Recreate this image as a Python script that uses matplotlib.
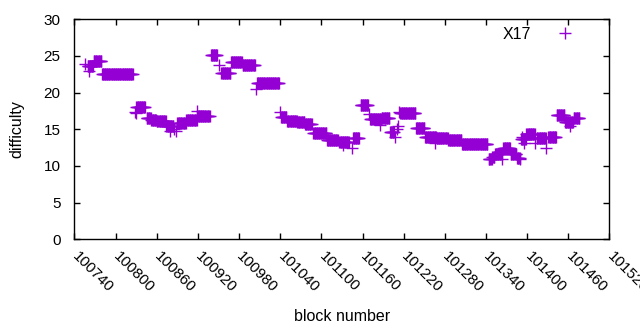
import numpy as np
import matplotlib
matplotlib.use('Agg')
import matplotlib.pyplot as plt
import matplotlib.transforms as mtransforms

plt.rcParams['font.family'] = ['Liberation Sans', 'DejaVu Sans']

# runs of equal difficulty: first block, last block, value
run_start = [100759, 100768, 100780, 100830, 100845, 100852, 100860, 100874,
             100890, 100903, 100919, 100939, 100954, 100968, 100985, 101006,
             101041, 101050, 101065, 101076, 101088, 101108, 101126, 101146,
             101157, 101171, 101188, 101200, 101215, 101238, 101251, 101268,
             101285, 101305, 101344, 101349, 101353, 101365, 101376, 101385,
             101391, 101399, 101414, 101431, 101443, 101455, 101468]
run_end = [100767, 100779, 100825, 100843, 100851, 100859, 100873, 100884,
           100902, 100918, 100937, 100948, 100967, 100984, 101003, 101038,
           101049, 101064, 101075, 101086, 101107, 101124, 101140, 101155,
           101168, 101187, 101199, 101206, 101237, 101250, 101267, 101284,
           101304, 101342, 101348, 101352, 101363, 101375, 101384, 101389,
           101398, 101411, 101427, 101442, 101454, 101467, 101476]
run_value = [23.6, 24.3, 22.6, 18.1, 16.6, 16.3, 16.1, 15.4,
             15.8, 16.3, 16.8, 25.1, 22.7, 24.2, 23.8, 21.3,
             16.7, 16.2, 16.0, 15.7, 14.5, 13.6, 13.3, 13.8,
             18.3, 16.4, 16.6, 14.6, 17.2, 15.2, 14.0, 13.8,
             13.5, 13.0, 10.9, 11.2, 11.6, 12.5, 11.7, 11.1,
             13.7, 14.3, 13.8, 13.9, 17.0, 16.0, 16.5]

# isolated blocks
single_block = [100756, 100761, 100828, 100829, 100879, 100885, 100888, 100919,
                100950, 101005, 101040, 101131, 101144, 101169, 101186, 101207,
                101210, 101212, 101213, 101266, 101363, 101390, 101392, 101396,
                101412, 101427, 101462]
single_value = [23.9, 23.0, 17.4, 17.2, 14.8, 15.0, 14.8, 17.5,
                23.8, 20.5, 17.4, 12.9, 12.5, 17.1, 15.6, 14.0,
                15.0, 15.4, 17.4, 13.1, 11.0, 11.0, 13.9, 13.1,
                13.1, 12.5, 15.4]

xticks = list(range(100740, 101521, 60))

blocks = list(single_block)
diffs = list(single_value)
for s, e, v in zip(run_start, run_end, run_value):
    for b in range(s, e + 1):
        blocks.append(b)
        diffs.append(v)

fig = plt.figure(figsize=(6.4, 3.3), dpi=100)
ax = fig.add_axes([0.1164, 0.2748, 0.8359, 0.6667])
ax.plot(blocks, diffs, '+', color='#9400D3', markersize=8.6, mew=1.0,
        linestyle='none', label='X17')

ax.set_xlim(100740, 101520)
ax.set_ylim(0, 30)
ax.set_xticks(xticks)
ax.set_yticks(range(0, 31, 5))
ax.tick_params(direction='in', length=4, width=1, top=True, right=True,
               labelsize=11)
ax.tick_params(axis='y', pad=10)
ax.tick_params(axis='x', pad=7)
for sp in ax.spines.values():
    sp.set_linewidth(1.0)
shift = mtransforms.ScaledTranslation(5 / 100, 0, fig.dpi_scale_trans)
for lab in ax.get_xticklabels():
    lab.set_rotation(-45)
    lab.set_ha('left')
    lab.set_va('top')
    lab.set_rotation_mode('anchor')
    lab.set_transform(lab.get_transform() + shift)

ax.set_xlabel('block number', fontsize=11.5, labelpad=10)
ax.set_ylabel('difficulty', fontsize=11.5, labelpad=14)

ax.legend(loc='upper right', frameon=False, markerfirst=False,
          fontsize=11.5, handlelength=1.5, handletextpad=1.4,
          bbox_to_anchor=(0.966, 1.03))

fig.savefig('out.png', dpi=100)
